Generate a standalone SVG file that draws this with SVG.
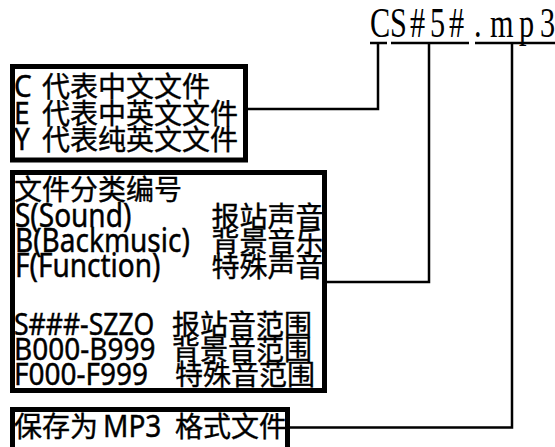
<svg xmlns="http://www.w3.org/2000/svg" width="555" height="447" viewBox="0 0 555 447">
<style>
.box{fill:#fff;stroke:#000;stroke-width:5}
.t{font-family:"Noto Sans","Noto Sans CJK SC",sans-serif;font-size:28px;fill:#000;stroke:#000;stroke-width:0.4}
.c{font-family:"Noto Sans CJK SC","Noto Sans",sans-serif;font-size:28px;fill:#000;stroke:#000;stroke-width:0.4}
.ln{fill:none;stroke:#000;stroke-width:2.5}
.fn{font-family:"Liberation Serif",serif;font-size:42px;fill:#000}
</style>
<rect width="555" height="447" fill="#fff"/>
<g id="filename">
<g transform="scale(0.72,1)">
<text class="fn" y="37"><tspan x="513.9">C</tspan><tspan x="541.7">S</tspan><tspan x="569.4">#</tspan><tspan x="597.2">5</tspan><tspan x="623.6">#</tspan><tspan x="658.3">.</tspan><tspan x="680.6">m</tspan><tspan x="720.8">p</tspan><tspan x="750.0">3</tspan></text>
</g>
<path class="ln" d="M370 43H387M391 43H469M475 43H555"/>
</g>
<g id="connectors">
<path class="ln" d="M378 43V109H248"/>
<path class="ln" d="M429 43V282H327"/>
<path class="ln" d="M512 43V427.5H290"/>
</g>
<g id="lang">
<rect class="box" x="12.5" y="66.5" width="233" height="93.5"/>
<text class="t" transform="translate(14,97) scale(1,1.12)">C</text>
<text class="t" transform="translate(14,123.5) scale(1,1.12)">E</text>
<text class="t" transform="translate(14,150) scale(1,1.12)">Y</text>
<text class="c" x="42" y="97">代表中文文件</text>
<text class="c" x="42" y="123.5">代表中英文文件</text>
<text class="c" x="42" y="150">代表纯英文文件</text>
</g>
<g id="category">
<rect class="box" x="12.5" y="172.5" width="312" height="218"/>
<text class="c" x="14" y="200">文件分类编号</text>
<text class="t" transform="translate(15,226.7) scale(1,1.14)" font-size="27.5">S(Sound)</text>
<text class="t" transform="translate(15,251.7) scale(1,1.14)" font-size="27.5">B(Backmusic)</text>
<text class="t" transform="translate(15,276.7) scale(1,1.14)" font-size="27.5">F(Function)</text>
<text class="c" x="211.5" y="226.7" font-size="27.5">报站声音</text>
<text class="c" x="211.5" y="251.7" font-size="27.5">背景音乐</text>
<text class="c" x="211.5" y="276.7" font-size="27.5">特殊声音</text>
<text class="t" transform="translate(14,335) scale(0.95,1.12)">S###-SZZO</text>
<text class="t" transform="translate(14,360) scale(1,1.12)">B000-B999</text>
<text class="t" transform="translate(14,385) scale(1,1.12)">F000-F999</text>
<text class="c" x="172" y="335">报站音范围</text>
<text class="c" x="172" y="360">背景音范围</text>
<text class="c" x="175" y="385">特殊音范围</text>
</g>
<g id="format">
<rect class="box" x="12.5" y="409.5" width="275" height="40"/>
<text class="c" x="14" y="437">保存为</text>
<text class="t" transform="translate(103,437) scale(1,1.12)">MP3</text>
<text class="c" x="175" y="437">格式文件</text>
</g>
</svg>
